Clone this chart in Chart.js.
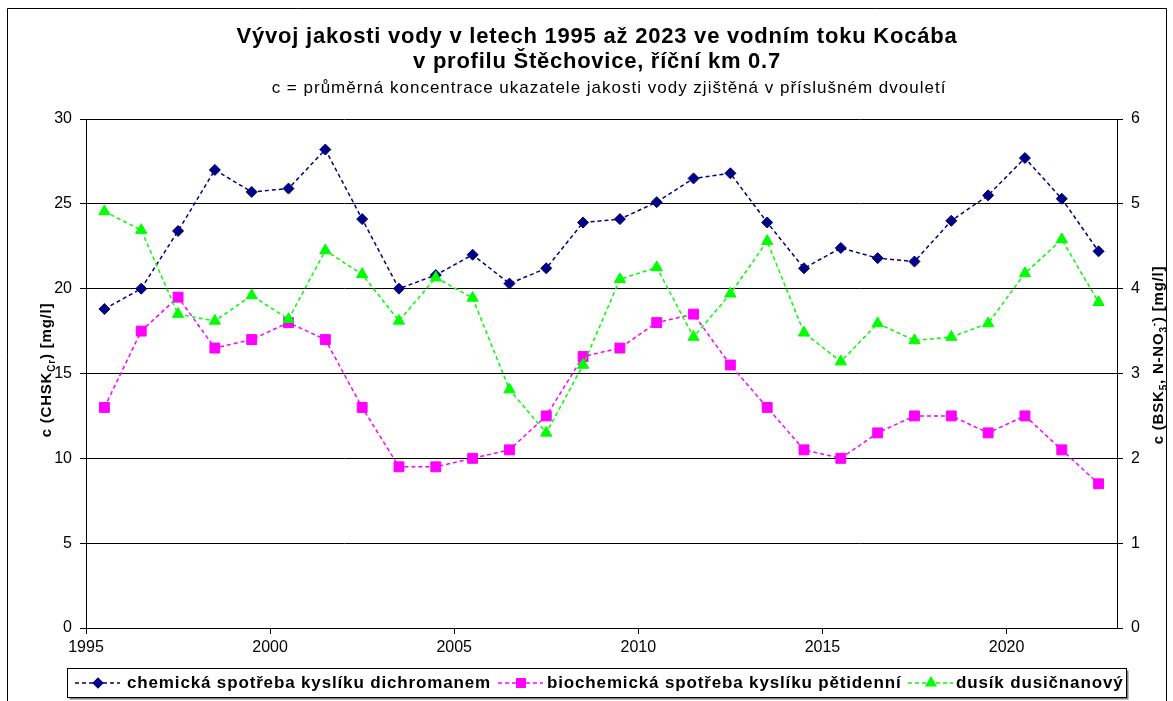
<!DOCTYPE html>
<html><head><meta charset="utf-8">
<script src="https://cdn.jsdelivr.net/npm/chart.js@4.4.1/dist/chart.umd.min.js"></script>
<style>html,body{margin:0;padding:0;background:#fff;overflow:hidden}#wrap{width:1173px;height:701px;position:relative}</style>
</head><body><div id="wrap"><canvas id="c" width="1173" height="701" style="width:1173px;height:701px"></canvas></div>
<script>
// ---- data ----
const years = [1995.5,1996.5,1997.5,1998.5,1999.5,2000.5,2001.5,2002.5,2003.5,2004.5,2005.5,2006.5,2007.5,2008.5,2009.5,2010.5,2011.5,2012.5,2013.5,2014.5,2015.5,2016.5,2017.5,2018.5,2019.5,2020.5,2021.5,2022.5];
const chskCr = [18.8,20.0,23.4,27.0,25.7,25.9,28.2,24.1,20.0,20.8,22.0,20.3,21.2,23.9,24.1,25.1,26.5,26.8,23.9,21.2,22.4,21.8,21.6,24.0,25.5,27.7,25.3,22.2];
const bsk5 = [2.6,3.5,3.9,3.3,3.4,3.6,3.4,2.6,1.9,1.9,2.0,2.1,2.5,3.2,3.3,3.6,3.7,3.1,2.6,2.1,2.0,2.3,2.5,2.5,2.3,2.5,2.1,1.7];
const nNO3 = [4.91,4.69,3.70,3.62,3.92,3.64,4.45,4.17,3.62,4.13,3.89,2.81,2.30,3.10,4.11,4.25,3.43,3.94,4.56,3.48,3.14,3.59,3.39,3.43,3.59,4.18,4.58,3.84];
const xTickValues = [1995,2000,2005,2010,2015,2020];
const seriesNames = ['chemická spotřeba kyslíku dichromanem','biochemická spotřeba kyslíku pětidenní','dusík dusičnanový'];
const titleLines = ['Vývoj jakosti vody v letech 1995 až 2023 ve vodním toku Kocába','v profilu Štěchovice, říční km 0.7'];
const subtitleText = 'c = průměrná koncentrace ukazatele jakosti vody zjištěná v příslušném dvouletí';
const leftTitle = [{t:'c (CHSK'},{t:'Cr',s:'sub'},{t:') [mg/l]'}];
const rightTitle = [{t:'c (BSK'},{t:'5',s:'sub'},{t:', N-NO'},{t:'3',s:'sub'},{t:'-',s:'sup'},{t:') [mg/l]'}];

const FF = '"Liberation Sans", Arial, sans-serif';
const colors = ['#000080','#FF00FF','#00FF00'];
const styles = [{ps:'rectRot',r:5.5},{ps:'rect',r:7},{ps:'triangle',r:6.5}];

function pts(arr){ return years.map((x,i)=>({x:x,y:arr[i]})); }

function setLS(ctx, v){ if ('letterSpacing' in ctx) ctx.letterSpacing = v + 'px'; }

function drawRich(ctx, parts, cx, cy, size, ls){
  ctx.save();
  ctx.translate(cx, cy); ctx.rotate(-Math.PI/2);
  setLS(ctx, ls);
  let total = 0;
  parts.forEach(p=>{ ctx.font = 'bold '+(p.s?Math.round(size*0.66):size)+'px '+FF; p.w = ctx.measureText(p.t).width; total += p.w; });
  let x = -total/2;
  const base = size*0.36;
  ctx.fillStyle = '#000'; ctx.textBaseline = 'alphabetic'; ctx.textAlign='left';
  parts.forEach(p=>{
    ctx.font = 'bold '+(p.s?Math.round(size*0.66):size)+'px '+FF;
    let dy = p.s==='sub' ? size*0.22 : (p.s==='sup' ? -size*0.42 : 0);
    ctx.fillText(p.t, x, base+dy);
    x += p.w;
  });
  ctx.restore();
}

function centered(ctx, text, cx, cy, ls){
  setLS(ctx, ls);
  const w = ctx.measureText(text).width;
  ctx.textAlign = 'left';
  ctx.fillText(text, cx - w/2, cy);
  setLS(ctx, 0);
}

const decor = {
  id:'decor',
  beforeDraw(chart){
    const ctx = chart.ctx;
    ctx.save(); ctx.fillStyle='#fff'; ctx.fillRect(0,0,chart.width,chart.height); ctx.restore();
  },
  afterDraw(chart){
    const ctx = chart.ctx;
    ctx.save();
    // outer frame
    ctx.strokeStyle = '#000'; ctx.lineWidth = 1;
    ctx.beginPath(); ctx.moveTo(7.5, 702); ctx.lineTo(7.5, 8.5); ctx.lineTo(1166.5, 8.5); ctx.lineTo(1166.5, 702); ctx.stroke();
    // titles
    ctx.fillStyle = '#000'; ctx.textBaseline='middle';
    ctx.font = 'bold 22px '+FF;
    centered(ctx, titleLines[0], 597, 37, 0.78);
    centered(ctx, titleLines[1], 597, 62, 0.75);
    ctx.font = '17px '+FF;
    centered(ctx, subtitleText, 609, 88, 1.0);
    // axis titles
    drawRich(ctx, leftTitle, 46, 370, 15, 0.8);
    drawRich(ctx, rightTitle, 1158, 355, 15, 0.8);
    // legend box
    const lx=67.5, ly=668.5, lw=1059, lh=29;
    ctx.fillStyle='#808080'; ctx.fillRect(lx+2, ly+2, lw, lh);
    ctx.fillStyle='#fff'; ctx.fillRect(lx, ly, lw, lh);
    ctx.strokeStyle='#000'; ctx.lineWidth=1; ctx.strokeRect(lx, ly, lw, lh);
    const items = [{x0:75,tx:127},{x0:498,tx:547},{x0:908,tx:956}];
    const cy = 683;
    items.forEach((it,i)=>{
      ctx.save();
      ctx.strokeStyle = colors[i]; ctx.lineWidth=1.5; ctx.setLineDash([4,3]);
      ctx.beginPath(); ctx.moveTo(it.x0, cy); ctx.lineTo(it.x0+45, cy); ctx.stroke();
      ctx.setLineDash([]);
      ctx.fillStyle = colors[i];
      Chart.helpers.drawPoint(ctx, {pointStyle:styles[i].ps, radius:styles[i].r*0.85, borderWidth:1, rotation:0}, it.x0+23, cy);
      ctx.fill();
      ctx.restore();
      ctx.fillStyle='#000'; ctx.textAlign='left'; ctx.textBaseline='middle';
      ctx.font = 'bold 17px '+FF;
      setLS(ctx, 0.85);
      ctx.fillText(seriesNames[i], it.tx, cy);
      setLS(ctx, 0);
    });
    ctx.restore();
  }
};

const datasets = [chskCr, bsk5, nNO3].map((arr,i)=>({
  label: seriesNames[i],
  data: pts(arr),
  yAxisID: i===0 ? 'y' : 'y1',
  borderColor: colors[i],
  backgroundColor: colors[i],
  pointBackgroundColor: colors[i],
  pointBorderColor: colors[i],
  borderWidth: 1.5,
  borderDash: [4,3],
  pointStyle: styles[i].ps,
  pointRadius: styles[i].r,
  pointBorderWidth: 1,
  tension: 0,
  order: 2-i
}));

new Chart(document.getElementById('c'), {
  type: 'line',
  data: { datasets },
  options: {
    responsive: false,
    devicePixelRatio: 1,
    animation: false,
    layout: { padding: { top: 119, left: 0, right: 0, bottom: 43 } },
    plugins: { legend: { display:false }, title: { display:false }, tooltip: { enabled:false } },
    scales: {
      x: {
        type:'linear', min:1995, max:2023,
        afterFit(s){ s.height = 30; },
        afterBuildTicks(s){ s.ticks = xTickValues.map(v=>({value:v})); },
        ticks: { font:{family:FF,size:16}, color:'#000', padding:4, maxRotation:0, autoSkip:false, callback:(v)=>String(v) },
        grid: { drawOnChartArea:false, drawTicks:true, tickLength:6, color:'#000', lineWidth:1 },
        border: { display:true, color:'#000', width:1 }
      },
      y: {
        position:'left', min:0, max:30,
        afterFit(s){ s.width = 86; },
        ticks: { stepSize:5, font:{family:FF,size:16}, color:'#000', padding:8 },
        grid: { drawOnChartArea:true, drawTicks:true, tickLength:6, color:'#000', lineWidth:1 },
        border: { display:true, color:'#000', width:1 }
      },
      y1: {
        position:'right', min:0, max:6,
        afterFit(s){ s.width = 56; },
        ticks: { stepSize:1, font:{family:FF,size:16}, color:'#000', padding:8 },
        grid: { drawOnChartArea:false, drawTicks:true, tickLength:6, color:'#000', lineWidth:1 },
        border: { display:true, color:'#000', width:1 }
      }
    }
  },
  plugins: [decor]
});
</script>
</body></html>
